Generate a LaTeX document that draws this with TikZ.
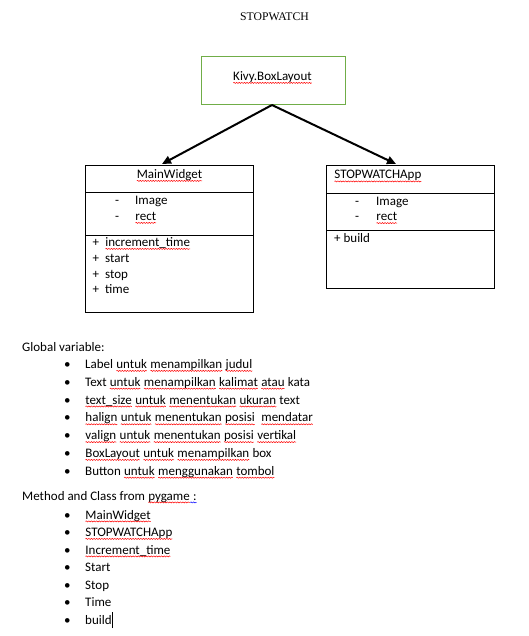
\documentclass[tikz,border=0pt]{standalone}
\usepackage{fontspec}
\setmainfont{Carlito}
\newfontfamily\titlefont{Liberation Serif}
\usetikzlibrary{arrows.meta,decorations.pathmorphing}
\definecolor{kivygreen}{HTML}{70AD47}
\tikzset{
  txt/.style={anchor=base west, inner sep=0pt, font=\fontsize{13}{15}\selectfont},
  ctxt/.style={anchor=base, inner sep=0pt, font=\fontsize{13}{15}\selectfont},
  umlbox/.style={draw=black, line width=0.8pt},
  conn/.style={line width=2pt, -{Triangle[length=9pt,width=8pt]}},
  wavy/.style={line width=0.5pt, decorate, decoration={snake, amplitude=0.55pt, segment length=2.6pt}},
}
\newcommand\sqc[2]{\tikz[baseline=(w.base)]{\node[anchor=base west, inner sep=0pt, outer sep=0pt] (w) at (0,0) {#2};
  \draw[#1, wavy] ([yshift=-2.4pt]w.base west) -- ([yshift=-2.4pt]w.base east);}}
\newcommand\sq[1]{\sqc{red}{#1}}
\newcommand\pl{+\hspace{6pt}}
\begin{document}
\begin{tikzpicture}[x=1pt,y=-1pt]
\useasboundingbox (0,0) rectangle (528,636);
\fill[white] (0,0) rectangle (528,636);
% title
\node[anchor=base, inner sep=0pt, font=\titlefont\fontsize{11.7}{14}\selectfont] (title) at (274.5,20.5) {STOPWATCH};
% Kivy box
\draw[draw=kivygreen, line width=1pt] (201,57) rectangle (345,105);
\coordinate (apex) at (272,105);
\node[ctxt] (kivy) at (272.5,80.5) {\sq{Kivy.BoxLayout}};
% MainWidget box
\draw[umlbox] (85,165) rectangle (253,312);
\draw[umlbox] (85,192) -- (253,192);
\draw[umlbox] (85,235) -- (253,235);
\coordinate (mwtop) at (162,164);
\node[ctxt] (mw) at (169.5,178.5) {\sq{MainWidget}};
\node[txt] (mwd1) at (115,204.5) {-};
\node[txt] (mwa1) at (135,204.5) {Image};
\node[txt] (mwd2) at (115,220.5) {-};
\node[txt] (mwa2) at (135,220.5) {\sq{rect}};
\node[txt] (mwm1) at (92.5,246.5) {\pl\sq{increment\_time}};
\node[txt] (mwm2) at (92.5,262.5) {\pl start};
\node[txt] (mwm3) at (92.5,278) {\pl stop};
\node[txt] (mwm4) at (92.5,293.8) {\pl time};
% STOPWATCHApp box
\draw[umlbox] (326,165) rectangle (494,288);
\draw[umlbox] (326,193) -- (494,193);
\draw[umlbox] (326,230) -- (494,230);
\coordinate (sptop) at (396,164);
\node[txt] (sp) at (334,179) {\sq{STOPWATCHApp}};
\node[txt] (spd1) at (355,205) {-};
\node[txt] (spa1) at (376,205) {Image};
\node[txt] (spd2) at (355,220.7) {-};
\node[txt] (spa2) at (376,220.7) {\sq{rect}};
\node[txt] (spm1) at (334,242.7) {+ build};
% connectors
\draw[conn] (apex) -- (mwtop);
\draw[conn] (apex) -- (sptop);
% Global variable list
\node[txt] (gv) at (22,351) {Global variable:};
\node[txt] (b1) at (64,368.5) {•};
\node[txt] (l1) at (85,368.5) {Label \sq{untuk} \sq{menampilkan} \sq{judul}};
\node[txt] (b2) at (64,386.3) {•};
\node[txt] (l2) at (85,386.3) {Text \sq{untuk} \sq{menampilkan} \sq{kalimat} \sq{atau} kata};
\node[txt] (b3) at (64,404.1) {•};
\node[txt] (l3) at (85,404.1) {\sq{text\_size} \sq{untuk} \sq{menentukan} \sq{ukuran} text};
\node[txt] (b4) at (64,421.9) {•};
\node[txt] (l4) at (85,421.9) {\sq{halign} \sq{untuk} \sq{menentukan} \sq{posisi}\ \ \sq{mendatar}};
\node[txt] (b5) at (64,439.7) {•};
\node[txt] (l5) at (85,439.7) {\sq{valign} \sq{untuk} \sq{menentukan} \sq{posisi} \sq{vertikal}};
\node[txt] (b6) at (64,457.5) {•};
\node[txt] (l6) at (85,457.5) {\sq{BoxLayout} \sq{untuk} \sq{menampilkan} box};
\node[txt] (b7) at (64,475.3) {•};
\node[txt] (l7) at (85,475.3) {Button \sq{untuk} \sq{menggunakan} \sq{tombol}};
% Method list
\node[txt] (mc) at (22,500) {Method and Class from \sq{pygame}\sqc{blue}{\ :}};
\node[txt] (c1) at (64,519) {•};
\node[txt] (m1) at (85,519) {\sq{MainWidget}};
\node[txt] (c2) at (64,536.5) {•};
\node[txt] (m2) at (85,536.5) {\sq{STOPWATCHApp}};
\node[txt] (c3) at (64,554) {•};
\node[txt] (m3) at (85,554) {\sq{Increment\_time}};
\node[txt] (c4) at (64,571.5) {•};
\node[txt] (m4) at (85,571.5) {Start};
\node[txt] (c5) at (64,589) {•};
\node[txt] (m5) at (85,589) {Stop};
\node[txt] (c6) at (64,606.5) {•};
\node[txt] (m6) at (85,606.5) {Time};
\node[txt] (c7) at (64,624) {•};
\node[txt] (m7) at (85,624) {build};
\draw[line width=0.8pt] ([xshift=1pt]m7.base east) ++(0,4) -- ++(0,-16);
\end{tikzpicture}
\end{document}
